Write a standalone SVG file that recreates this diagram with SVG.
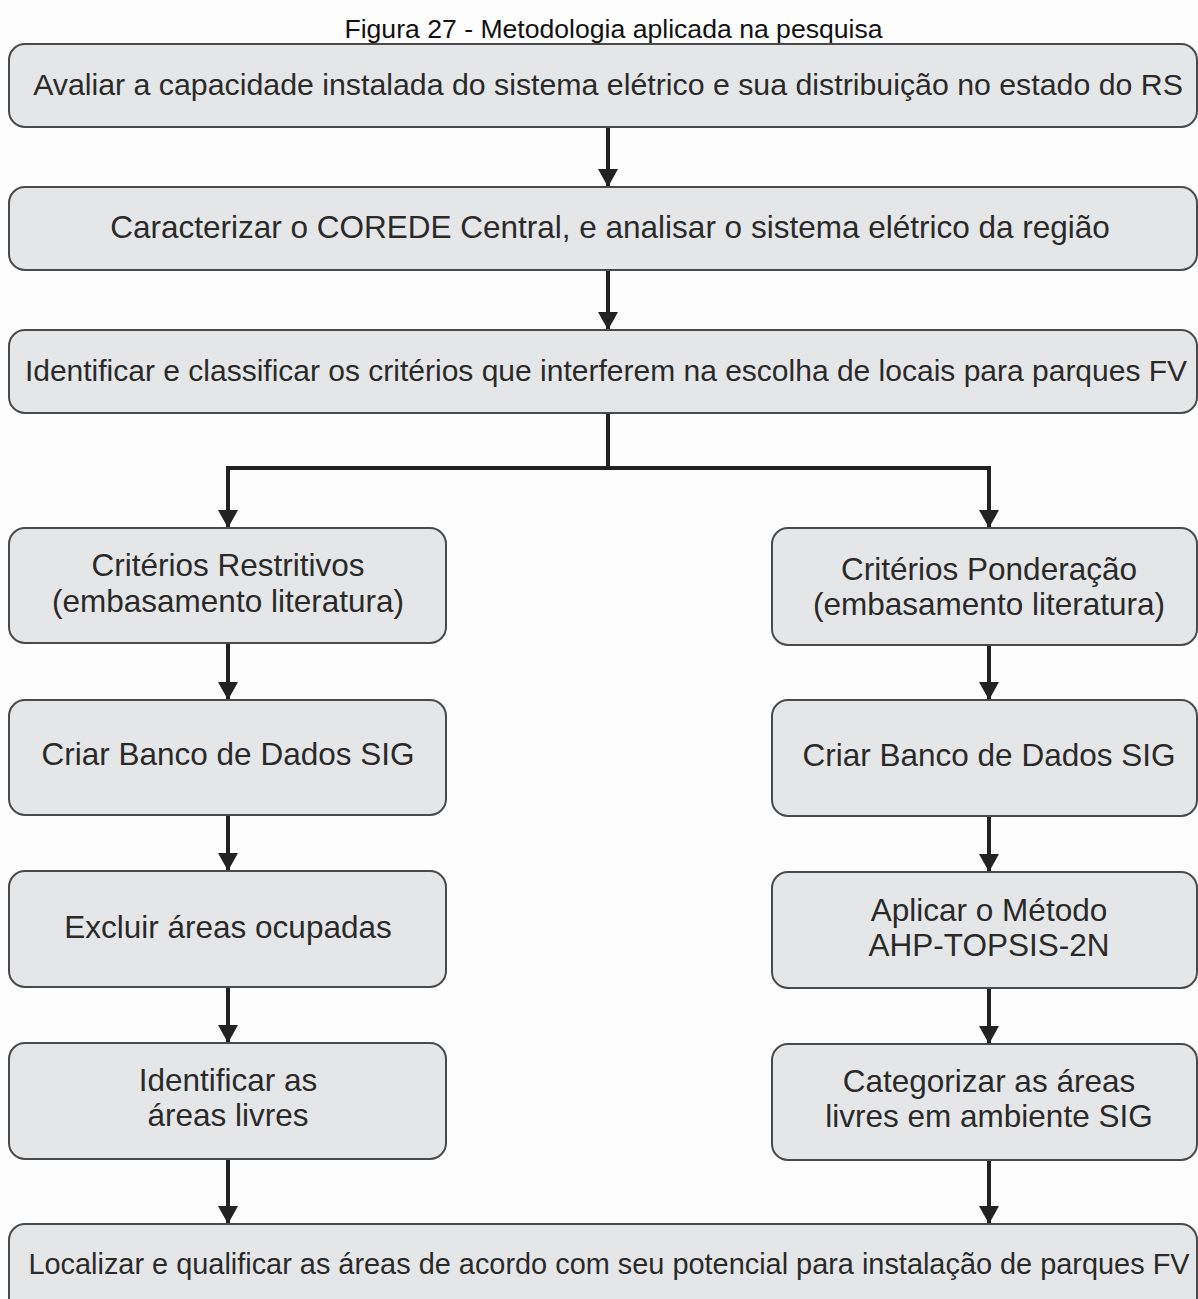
<svg xmlns="http://www.w3.org/2000/svg" width="1198" height="1299" viewBox="0 0 1198 1299">
<defs>
<style>
.box{fill:#e5e6e7;stroke:#4a4a4a;stroke-width:2}
.t{font-family:"Liberation Sans",Arial,sans-serif;font-size:31.5px;fill:#2a2a2a;text-anchor:middle}
.title{font-family:"Liberation Sans",Arial,sans-serif;font-size:26.6px;fill:#111;text-anchor:middle}
.ln{stroke:#222;stroke-width:4;fill:none}
</style>
<marker id="arr" markerWidth="20" markerHeight="20" refX="18" refY="10" orient="auto" markerUnits="userSpaceOnUse" viewBox="0 0 18 20">
<path d="M0,0 L18,10 L0,20 Z" fill="#222"/>
</marker>
</defs>
<rect width="1198" height="1299" fill="#fdfdfd"/>
<text class="title" x="613.5" y="38">Figura 27 - Metodologia aplicada na pesquisa</text>
<g id="connectors">
<path class="ln" d="M608,127 V187" marker-end="url(#arr)"/>
<path class="ln" d="M608,270 V330" marker-end="url(#arr)"/>
<path class="ln" d="M608,413 V468 H228 V528" marker-end="url(#arr)"/>
<path class="ln" d="M608,468 H989 V528" marker-end="url(#arr)"/>
<path class="ln" d="M228,643 V700" marker-end="url(#arr)"/>
<path class="ln" d="M228,815 V871" marker-end="url(#arr)"/>
<path class="ln" d="M228,987 V1043" marker-end="url(#arr)"/>
<path class="ln" d="M228,1159 V1224" marker-end="url(#arr)"/>
<path class="ln" d="M989,645 V700" marker-end="url(#arr)"/>
<path class="ln" d="M989,816 V872" marker-end="url(#arr)"/>
<path class="ln" d="M989,988 V1044" marker-end="url(#arr)"/>
<path class="ln" d="M989,1160 V1224" marker-end="url(#arr)"/>
</g>
<g id="n1"><rect class="box" x="9" y="44" width="1188" height="83" rx="16"/><text class="t" x="608" y="95" style="font-size:30.3px">Avaliar a capacidade instalada do sistema elétrico e sua distribuição no estado do RS</text></g>
<g id="n2"><rect class="box" x="9" y="187" width="1188" height="83" rx="16"/><text class="t" x="610" y="238">Caracterizar o COREDE Central, e analisar o sistema elétrico da região</text></g>
<g id="n3"><rect class="box" x="9" y="330" width="1188" height="83" rx="16"/><text class="t" x="606" y="381" style="font-size:30px">Identificar e classificar os critérios que interferem na escolha de locais para parques FV</text></g>
<g id="n4"><rect class="box" x="9" y="528" width="437" height="115" rx="16"/><text class="t" x="228" y="576">Critérios Restritivos</text><text class="t" x="228" y="612">(embasamento literatura)</text></g>
<g id="n5"><rect class="box" x="9" y="700" width="437" height="115" rx="16"/><text class="t" x="228" y="765">Criar Banco de Dados SIG</text></g>
<g id="n6"><rect class="box" x="9" y="871" width="437" height="116" rx="16"/><text class="t" x="228" y="938">Excluir áreas ocupadas</text></g>
<g id="n7"><rect class="box" x="9" y="1043" width="437" height="116" rx="16"/><text class="t" x="228" y="1091">Identificar as</text><text class="t" x="228" y="1126">áreas livres</text></g>
<g id="n8"><rect class="box" x="772" y="528" width="425" height="117" rx="16"/><text class="t" x="989" y="580">Critérios Ponderação</text><text class="t" x="989" y="615">(embasamento literatura)</text></g>
<g id="n9"><rect class="box" x="772" y="700" width="425" height="116" rx="16"/><text class="t" x="989" y="766">Criar Banco de Dados SIG</text></g>
<g id="n10"><rect class="box" x="772" y="872" width="425" height="116" rx="16"/><text class="t" x="989" y="921">Aplicar o Método</text><text class="t" x="989" y="956">AHP-TOPSIS-2N</text></g>
<g id="n11"><rect class="box" x="772" y="1044" width="425" height="116" rx="16"/><text class="t" x="989" y="1092">Categorizar as áreas</text><text class="t" x="989" y="1127">livres em ambiente SIG</text></g>
<g id="n12"><rect class="box" x="9" y="1224" width="1188" height="100" rx="16"/><text class="t" x="609" y="1274" style="font-size:28.9px">Localizar e qualificar as áreas de acordo com seu potencial para instalação de parques FV</text></g>
</svg>
